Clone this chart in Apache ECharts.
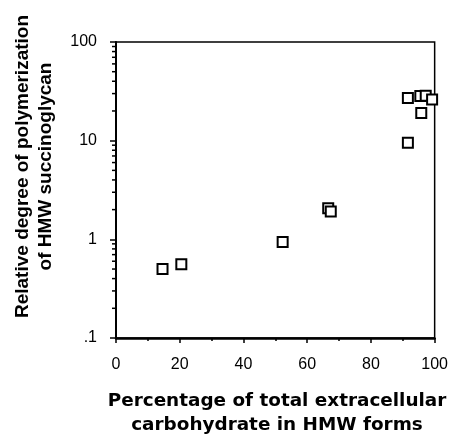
<!DOCTYPE html>
<html>
<head>
<meta charset="utf-8">
<script src="https://cdn.jsdelivr.net/npm/echarts@6/dist/echarts.min.js"></script>
<style>
  html, body { margin: 0; padding: 0; background: #fff; }
  #chart { width: 451px; height: 435px; }
</style>
</head>
<body>
<div id="chart"></div>
<script>
// percentage of total extracellular carbohydrate in HMW forms
const pctHMW = [14.6, 20.5, 52.3, 66.6, 67.4, 91.6, 91.6, 95.8, 95.5, 97.2, 99.2];
// relative degree of polymerization of HMW succinoglycan
const relDP = [0.50, 0.56, 0.94, 2.07, 1.92, 9.5, 27.1, 19.1, 28.4, 28.6, 26.1];

const yTickLabels = ['.1', '1', '10', '100'];
const xTickLabels = ['0', '20', '40', '60', '80', '100'];
const yMinorTicks = [0.2, 0.3, 0.4, 0.5, 0.6, 0.7, 0.8, 0.9,
                     2, 3, 4, 5, 6, 7, 8, 9,
                     20, 30, 40, 50, 60, 70, 80, 90];

const xTitle = 'Percentage of total extracellular\ncarbohydrate in HMW forms';
const yTitle = 'Relative degree of polymerization\nof HMW succinoglycan';

const points = pctHMW.map((x, i) => [x, relDP[i]]);

const chart = echarts.init(document.getElementById('chart'), null, { renderer: 'canvas' });

chart.setOption({
  animation: false,
  backgroundColor: '#fff',
  grid: {
    left: 116, right: 14, top: 42, bottom: 97,
    show: true, borderColor: '#000', borderWidth: 1.5, backgroundColor: 'transparent'
  },
  xAxis: {
    type: 'value',
    min: 0, max: 100, interval: 20,
    axisLine: { show: true, onZero: false, lineStyle: { color: '#000', width: 2.5 } },
    axisTick: { show: true, inside: false, length: 5, lineStyle: { color: '#000', width: 1.5 } },
    minorTick: { show: true, splitNumber: 2, length: 3, lineStyle: { color: '#000', width: 1.5 } },
    splitLine: { show: false },
    axisLabel: {
      margin: 19, color: '#000', fontFamily: 'Liberation Sans', fontSize: 16,
      formatter: v => xTickLabels[Math.round(v / 20)]
    }
  },
  yAxis: {
    type: 'log', logBase: 10,
    min: 0.1, max: 100,
    axisLine: { show: true, onZero: false, lineStyle: { color: '#000', width: 2 } },
    axisTick: { show: true, inside: false, length: 6, lineStyle: { color: '#000', width: 1.5 } },
    splitLine: { show: false },
    axisLabel: {
      margin: 19, color: '#000', fontFamily: 'Liberation Sans', fontSize: 16,
      formatter: v => yTickLabels[Math.round(Math.log10(v)) + 1]
    }
  },
  graphic: [
    {
      type: 'text', x: 277, y: 413,
      style: {
        text: xTitle, align: 'center', verticalAlign: 'middle',
        font: 'bold 18.4px "DejaVu Sans"', lineHeight: 24, fill: '#000'
      }
    },
    {
      type: 'text', x: 34, y: 166.5, rotation: Math.PI / 2,
      style: {
        text: yTitle, align: 'center', verticalAlign: 'middle',
        font: 'bold 19px "Liberation Sans"', lineHeight: 23, fill: '#000'
      }
    }
  ],
  series: [
    {
      // log minor ticks on the left axis
      type: 'custom',
      silent: true,
      clip: false,
      data: yMinorTicks.map(v => [0, v]),
      encode: { x: 0, y: 1 },
      renderItem: (params, api) => {
        const p = api.coord([0, api.value(1)]);
        return {
          type: 'line',
          shape: { x1: p[0] - 4, y1: p[1], x2: p[0], y2: p[1] },
          style: { stroke: '#000', lineWidth: 1.5 }
        };
      }
    },
    {
      type: 'scatter',
      data: points,
      symbol: 'rect',
      symbolSize: 10,
      itemStyle: { color: '#fff', borderColor: '#000', borderWidth: 2, opacity: 1 }
    }
  ]
});
</script>
</body>
</html>
